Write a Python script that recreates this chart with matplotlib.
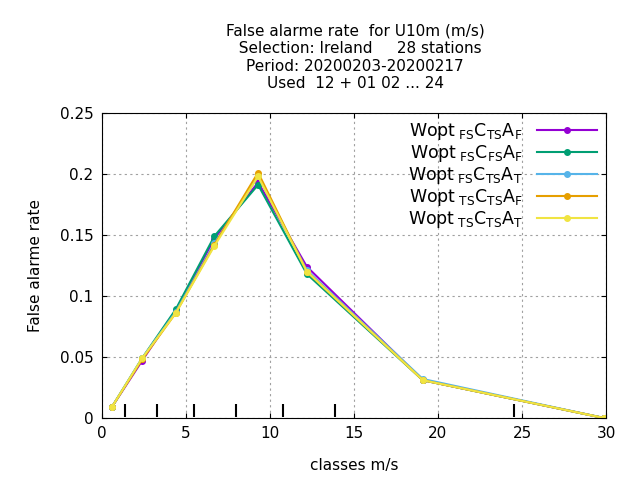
import matplotlib
matplotlib.use("Agg")
import matplotlib.pyplot as plt

x = [0.6, 2.4, 4.4, 6.7, 9.3, 12.2, 19.1, 29.9]
series = {
    r"Wopt$_{\rm\ FS}$C$_{\rm TS}$A$_{\rm F}$": [0.009, 0.047, 0.088, 0.147, 0.193, 0.124, 0.031, 0.0],
    r"Wopt$_{\rm\ FS}$C$_{\rm FS}$A$_{\rm F}$": [0.009, 0.049, 0.089, 0.149, 0.191, 0.118, 0.031, 0.0],
    r"Wopt$_{\rm\ FS}$C$_{\rm TS}$A$_{\rm T}$": [0.009, 0.049, 0.087, 0.143, 0.198, 0.121, 0.032, 0.0],
    r"Wopt$_{\rm\ TS}$C$_{\rm TS}$A$_{\rm F}$": [0.009, 0.048, 0.086, 0.142, 0.201, 0.120, 0.031, 0.0],
    r"Wopt$_{\rm\ TS}$C$_{\rm TS}$A$_{\rm T}$": [0.009, 0.049, 0.086, 0.141, 0.198, 0.120, 0.031, 0.0],
}
colors = ["#9400d3", "#009e73", "#56b4e9", "#e69f00", "#f0e442"]
bounds = [1.4, 3.3, 5.5, 8.0, 10.8, 13.9, 24.5]

fig = plt.figure(figsize=(6.4, 4.8), dpi=100)
ax = fig.add_axes([0.159, 0.129, 0.788, 0.636])
for (lab, y), c in zip(series.items(), colors):
    ax.plot(x, y, color=c, lw=1.5, marker="o", ms=4, label=lab)
ax.vlines(bounds, 0.0012, 0.0115, color="black", lw=1.5)
ax.set_xlim(0, 30)
ax.set_ylim(0, 0.25)
ax.set_xticks([0, 5, 10, 15, 20, 25, 30])
ax.set_yticks([0, 0.05, 0.1, 0.15, 0.2, 0.25])
ax.set_yticklabels(["0", "0.05", "0.1", "0.15", "0.2", "0.25"])
ax.tick_params(labelsize=11, direction="in", top=True, right=True, pad=6)
ax.grid(True, color="#a0a0a0", ls=(0, (2, 3)), lw=0.8)
ax.set_xlabel("classes m/s", fontsize=11, labelpad=12)
ax.set_ylabel("False alarme rate", fontsize=11, labelpad=12)
ax.legend(loc="upper right", frameon=False, fontsize=12.5, handlelength=3.5,
          markerfirst=False, borderaxespad=0.1, labelspacing=0.05)
fig.text(0.555, 0.81, "False alarme rate  for U10m (m/s)\n  Selection: Ireland     28 stations\nPeriod: 20200203-20200217\nUsed  12 + 01 02 ... 24",
         ha="center", va="bottom", fontsize=11, linespacing=1.2)
fig.savefig("out.png", dpi=100)
